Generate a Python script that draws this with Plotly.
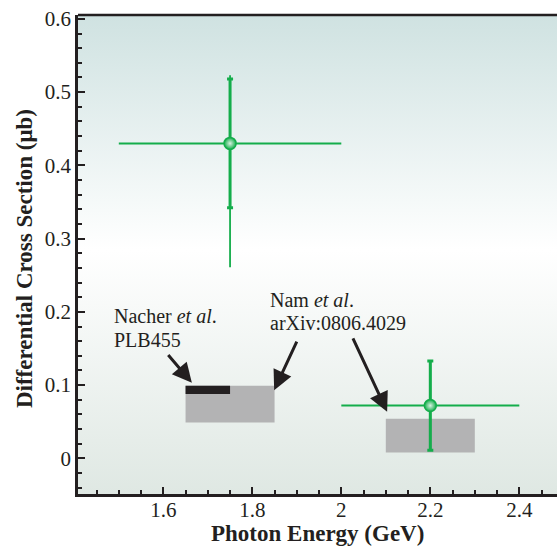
import plotly.graph_objects as go

# ---------------- data ----------------
energy = [1.75, 2.2]            # photon energy (GeV)
energy_halfwidth = [0.25, 0.2]  # bin half width
xsec = [0.43, 0.072]            # differential cross section (μb)
stat_err = [0.088, 0.061]
total_err_plus = [0.093, 0.061]
total_err_minus = [0.169, 0.061]

# Nam et al. prediction bands
nam_x0 = [1.65, 2.1]
nam_x1 = [1.85, 2.3]
nam_y0 = [0.049, 0.008]
nam_y1 = [0.099, 0.054]

# Nacher et al. prediction
nacher_x0 = [1.65]
nacher_x1 = [1.75]
nacher_y0 = [0.088]
nacher_y1 = [0.099]

x_tickvals = [1.6, 1.8, 2.0, 2.2, 2.4]
x_ticktext = ["1.6", "1.8", "2", "2.2", "2.4"]
y_tickvals = [0, 0.1, 0.2, 0.3, 0.4, 0.5, 0.6]
y_ticktext = ["0", "0.1", "0.2", "0.3", "0.4", "0.5", "0.6"]

x_range = [1.4083, 2.4847]
y_range = [-0.0487, 0.6053]

# annotation arrows: (tail_x, tail_y, tip_x, tip_y)
arrows = [
    (1.6082, 0.1432, 1.6642, 0.1031),
    (1.9015, 0.1613, 1.8491, 0.0931),
    (2.0246, 0.1658, 2.1030, 0.0636),
]

GREEN = "#14ad4b"
DARK = "#231f20"
GRAY = "#b3b3b4"
FONT = "Liberation Serif"

fig = go.Figure()

# background gradient (colorscale 0 = bottom)
fig.add_trace(go.Scatter(
    x=[x_range[0], x_range[1], x_range[1], x_range[0], x_range[0]],
    y=[y_range[0], y_range[0], y_range[1], y_range[1], y_range[0]],
    mode="lines", line=dict(width=0), fill="toself",
    fillgradient=dict(type="vertical",
                      colorscale=[[0, "#dfe8e3"], [0.51, "#ffffff"], [1, "#cfe2e1"]]),
    hoverinfo="skip", showlegend=False,
))

# Nam bands
for a, b, c, d in zip(nam_x0, nam_x1, nam_y0, nam_y1):
    fig.add_trace(go.Scatter(
        x=[a, b, b, a, a], y=[c, c, d, d, c], mode="lines", line=dict(width=0),
        fill="toself", fillcolor=GRAY, hoverinfo="skip", showlegend=False))

# Nacher bar
for a, b, c, d in zip(nacher_x0, nacher_x1, nacher_y0, nacher_y1):
    fig.add_trace(go.Scatter(
        x=[a, b, b, a, a], y=[c, c, d, d, c], mode="lines", line=dict(width=0),
        fill="toself", fillcolor=DARK, hoverinfo="skip", showlegend=False))

# total errors (thin)
fig.add_trace(go.Scatter(
    x=energy, y=xsec, mode="markers", marker=dict(size=1, color="rgba(0,0,0,0)"),
    error_x=dict(type="data", array=energy_halfwidth, color=GREEN, thickness=2, width=0),
    error_y=dict(type="data", array=total_err_plus, arrayminus=total_err_minus,
                 color=GREEN, thickness=1.8, width=0),
    showlegend=False, hoverinfo="skip"))

# statistical errors (thick, capped) + markers
fig.add_trace(go.Scatter(
    x=energy, y=xsec, mode="markers",
    marker=dict(size=12, color=GREEN,
                gradient=dict(type="radial", color="#d9f2e2"),
                line=dict(color=GREEN, width=1.5)),
    error_y=dict(type="data", array=stat_err, color=GREEN, thickness=3, width=3),
    showlegend=False))

annotations = []
for tx, ty, hx, hy in arrows:
    annotations.append(dict(
        x=hx, y=hy, ax=tx, ay=ty, xref="x", yref="y", axref="x", ayref="y",
        text="", showarrow=True, arrowhead=2, arrowsize=1.3, arrowwidth=3,
        arrowcolor=DARK, standoff=0, startstandoff=0))

text_font = dict(family=FONT, size=20, color=DARK)
labels = [
    ("Nacher <i>et al</i>.", 1.4858, 0.1942),
    ("PLB455", 1.4858, 0.1615),
    ("Nam <i>et al</i>.", 1.8343, 0.2163),
    ("arXiv:0806.4029", 1.8343, 0.1845),
]
for t, x, y in labels:
    annotations.append(dict(x=x, y=y, xref="x", yref="y", text=t, showarrow=False,
                            xanchor="left", yanchor="middle", font=text_font))

title_font = dict(family=FONT, size=23, color=DARK)
annotations.append(dict(x=0.501, y=-0.083, xref="paper", yref="paper",
                        text="<b>Photon Energy (GeV)</b>", showarrow=False,
                        xanchor="center", yanchor="middle", font=title_font))
annotations.append(dict(x=-0.11, y=0.491, xref="paper", yref="paper",
                        text="<b>Differential Cross Section (μb)</b>", showarrow=False,
                        textangle=-90, xanchor="center", yanchor="middle", font=title_font))

tick_font = dict(family=FONT, size=21, color=DARK)
fig.update_layout(
    width=557, height=549,
    margin=dict(l=78, r=0, t=14.5, b=55),
    paper_bgcolor="white", plot_bgcolor="white",
    annotations=annotations,
    shapes=[dict(type="line", xref="paper", yref="paper", x0=0, x1=1, y0=1, y1=1,
                 line=dict(color=DARK, width=2.5))],
    xaxis=dict(range=x_range, showgrid=False, zeroline=False,
               showline=True, linecolor=DARK, linewidth=2.5,
               ticks="inside", ticklen=7, tickwidth=2, tickcolor=DARK,
               tickvals=x_tickvals, ticktext=x_ticktext, tickfont=tick_font,
               ticklabelstandoff=-5,
               minor=dict(ticks="inside", ticklen=4, tickwidth=2, tickcolor=DARK,
                          dtick=0.05, tick0=1.4, showgrid=False)),
    yaxis=dict(range=y_range, showgrid=False, zeroline=False,
               showline=True, linecolor=DARK, linewidth=2.5,
               ticks="inside", ticklen=7, tickwidth=2, tickcolor=DARK,
               tickvals=y_tickvals, ticktext=y_ticktext, tickfont=tick_font,
               minor=dict(ticks="inside", ticklen=4, tickwidth=2, tickcolor=DARK,
                          dtick=0.02, tick0=0, showgrid=False)),
)

fig.write_html("out.html", config={"displayModeBar": False},
               post_script="document.body.style.margin='0';document.body.style.overflow='hidden';")
